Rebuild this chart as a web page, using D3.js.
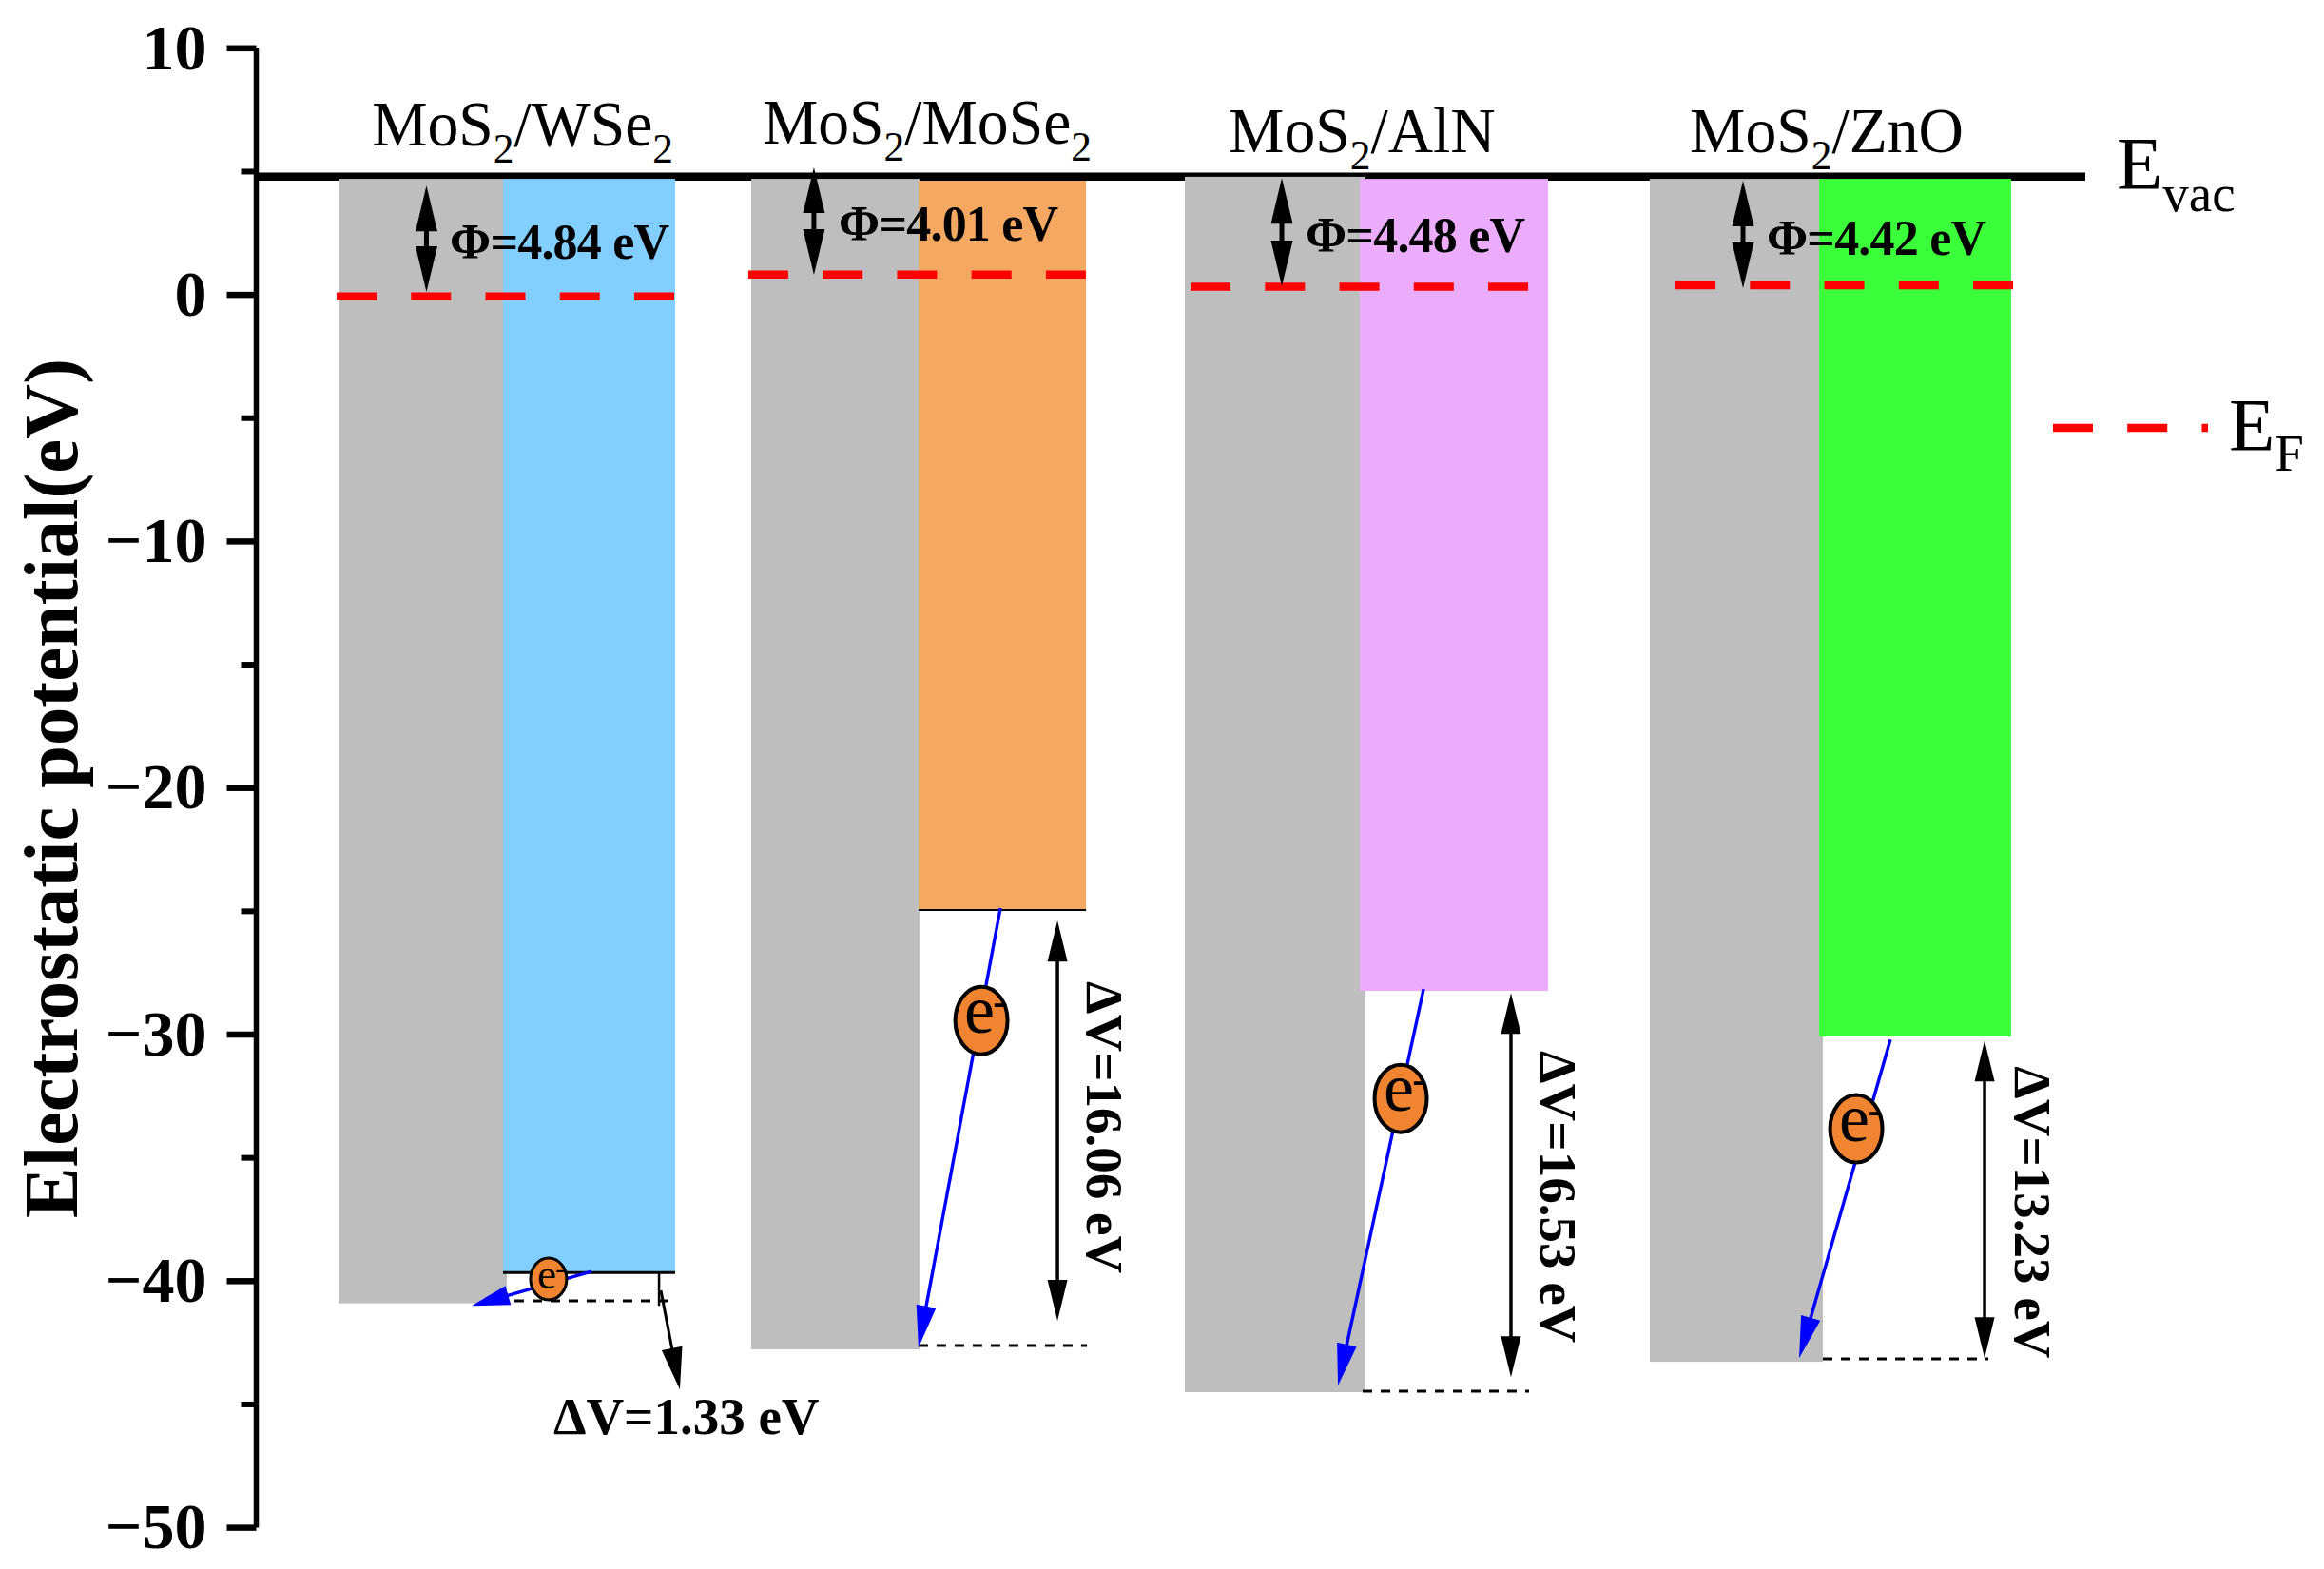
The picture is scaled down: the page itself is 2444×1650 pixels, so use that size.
<!DOCTYPE html>
<html><head><meta charset="utf-8">
<script src="https://cdn.jsdelivr.net/npm/d3@7/dist/d3.min.js"></script>
<style>
html,body{margin:0;padding:0;background:#fff}
svg{display:block}
text{font-family:"Liberation Serif",serif;fill:#000}
</style></head><body>
<svg id="c" width="2444" height="1650"></svg>
<script>
// ---- data (eV on the y axis, arbitrary 0-100 horizontal position units) ----
const heterostructures = ["WSe", "MoSe", "AlN", "ZnO"];
const vacuumLevel = 4.8;
const workFunctions = ["4.84", "4.01", "4.48", "4.42"];
const potentialDrops = ["1.33", "16.06", "16.53", "13.23"];
const yTicksMajor = [10, 0, -10, -20, -30, -40, -50];
const yTicksMinor = [5, -5, -15, -25, -35, -45];

const grayLeft = [4.47, 27.04, 50.75, 76.18];
const grayRight = [13.68, 36.25, 60.63, 85.65];
const grayTop = [4.705, 4.705, 4.79, 4.705];
const grayBottom = [-40.9, -42.77, -44.5, -43.27];
const layerLeft = [13.47, 36.19, 60.32, 85.44];
const layerRight = [22.88, 45.35, 70.62, 95.94];
const layerTop = [4.705, 4.63, 4.705, 4.705];
const layerBottom = [-39.65, -24.95, -28.23, -30.08];
const layerColors = ["#82CEFF", "#F4A862", "#EBACFC", "#3CFF3C"];

const fermiLevel = [-0.06, 0.82, 0.33, 0.39];
const fermiFrom = [4.37, 26.88, 51.07, 77.59];
const fermiTo = [22.88, 45.40, 69.58, 96.10];

const phiArrowX = [9.28, 30.47, 56.06, 81.28];
const phiArrowTop = [4.43, 5.17, 4.74, 4.63];
const phiArrowBottom = [0.12, 0.81, 0.35, 0.27];
const phiLabelX = [10.56, 31.83, 57.36, 82.58];
const phiLabelY = [1.47, 2.20, 1.74, 1.62];

const titleX = [6.30, 27.66, 53.15, 78.37];
const titleY = [6.05, 6.13, 5.78, 5.78];

const flowFromX = [18.30, 40.67, 63.81, 89.34];
const flowFromY = [-39.61, -24.87, -28.15, -30.20];
const flowToX = [11.75, 36.19, 59.13, 84.35];
const flowToY = [-41.0, -42.69, -44.23, -43.12];
const electronX = [15.96, 39.63, 62.56, 87.47];
const electronY = [-39.91, -29.43, -32.59, -33.82];

const dropArrowX = [43.79, 68.59, 94.49];
const dropArrowTop = [-25.38, -28.31, -30.24];
const dropArrowBottom = [-41.61, -43.89, -43.12];
const dropLabelX = [45.40, 70.20, 96.15];
const dropLabelY = [-27.84, -30.66, -31.28];

const dashLevel = [-40.80, -42.61, -44.46, -43.15];
const dashFrom = [14.09, 36.19, 60.48, 85.65];
const dashTo = [22.83, 45.40, 69.58, 94.70];

// ---- scales ----
const svg = d3.select("#c");
const x = d3.scaleLinear().domain([0, 100]).range([270, 2193]);
const y = d3.scaleLinear().domain([10, -50]).range([50.8, 1606.6]);

// ---- helpers ----
function head(g, tipX, tipY, dx, dy, len, wid, color) {
  const n = Math.hypot(dx, dy), ux = dx / n, uy = dy / n;
  const bx = tipX - ux * len, by = tipY - uy * len;
  g.append("path")
    .attr("d", d3.line()([[tipX, tipY], [bx - uy * wid / 2, by + ux * wid / 2], [bx + uy * wid / 2, by - ux * wid / 2]]) + "Z")
    .attr("fill", color);
}
function arrow(g, x0, y0, x1, y1, sw, len, wid, color, both) {
  const n = Math.hypot(x1 - x0, y1 - y0), ux = (x1 - x0) / n, uy = (y1 - y0) / n;
  g.append("line")
    .attr("x1", both ? x0 + ux * len * .9 : x0).attr("y1", both ? y0 + uy * len * .9 : y0)
    .attr("x2", x1 - ux * len * .9).attr("y2", y1 - uy * len * .9)
    .attr("stroke", color).attr("stroke-width", sw);
  head(g, x1, y1, ux, uy, len, wid, color);
  if (both) head(g, x0, y0, -ux, -uy, len, wid, color);
}

// ---- vacuum level (under the slabs) ----
svg.append("line").attr("x1", x(0)).attr("x2", x(100))
  .attr("y1", y(vacuumLevel)).attr("y2", y(vacuumLevel))
  .attr("stroke", "#000").attr("stroke-width", 8.5);

// ---- slabs ----
const slabs = svg.append("g");
heterostructures.forEach((_, i) => {
  slabs.append("rect").attr("x", x(grayLeft[i])).attr("width", x(grayRight[i]) - x(grayLeft[i]))
    .attr("y", y(grayTop[i])).attr("height", y(grayBottom[i]) - y(grayTop[i])).attr("fill", "#BEBEBE");
  slabs.append("rect").attr("x", x(layerLeft[i])).attr("width", x(layerRight[i]) - x(layerLeft[i]))
    .attr("y", y(layerTop[i])).attr("height", y(layerBottom[i]) - y(layerTop[i])).attr("fill", layerColors[i]);
});
// black edge under the first two layers
[[0, 3], [1, 2]].forEach(([i, w]) => {
  slabs.append("line").attr("x1", x(layerLeft[i])).attr("x2", x(layerRight[i]))
    .attr("y1", y(layerBottom[i])).attr("y2", y(layerBottom[i]))
    .attr("stroke", "#000").attr("stroke-width", w);
});

// ---- dashed reference levels ----
heterostructures.forEach((_, i) => {
  svg.append("line").attr("x1", x(dashFrom[i])).attr("x2", x(dashTo[i]))
    .attr("y1", y(dashLevel[i])).attr("y2", y(dashLevel[i]))
    .attr("stroke", "#000").attr("stroke-width", 3).attr("stroke-dasharray", "10 9");
});

// ---- axis ----
const axisG = svg.append("g").attr("transform", `translate(${x(0) - 0.5},0)`);
const axis = d3.axisLeft(y).tickValues(yTicksMajor).tickSize(31).tickSizeOuter(0).tickPadding(21).offset(0);
axisG.call(axis);
axisG.selectAll("line").attr("stroke", "#000").attr("stroke-width", 6.5);
axisG.select(".domain").attr("stroke", "#000").attr("stroke-width", 5.5);
axisG.selectAll("text").style("font-family", '"Liberation Serif",serif')
  .style("font-size", "68px").style("font-weight", "bold");
const minorG = svg.append("g").attr("transform", `translate(${x(0) - 0.5},0)`);
minorG.call(d3.axisLeft(y).tickValues(yTicksMinor).tickSize(16).tickSizeOuter(0).tickFormat("").offset(0));
minorG.select(".domain").remove();
minorG.selectAll("line").attr("stroke", "#000").attr("stroke-width", 6);

svg.append("text").attr("transform", `translate(81,829) rotate(-90)`)
  .attr("text-anchor", "middle").style("font-size", "80.5px").style("font-weight", "bold")
  .text("Electrostatic potential(eV)");

// ---- titles (slightly condensed, as in the figure) ----
heterostructures.forEach((name, i) => {
  const t = svg.append("text").attr("transform", `translate(${x(titleX[i])},${y(titleY[i])}) scale(0.965,1)`)
    .style("font-size", "68px");
  t.append("tspan").text("MoS");
  t.append("tspan").attr("dy", 18).style("font-size", "45px").text("2");
  const hasSub = name.endsWith("Se");
  t.append("tspan").attr("dy", -18).text("/" + name);
  if (hasSub) t.append("tspan").attr("dy", 18).style("font-size", "45px").text("2");
});

// ---- Fermi level ----
heterostructures.forEach((_, i) => {
  svg.append("line").attr("x1", x(fermiFrom[i])).attr("x2", x(fermiTo[i]))
    .attr("y1", y(fermiLevel[i])).attr("y2", y(fermiLevel[i]))
    .attr("stroke", "#FF0000").attr("stroke-width", 8.5).attr("stroke-dasharray", "42 36.25");
});

// ---- work function arrows and labels ----
heterostructures.forEach((_, i) => {
  arrow(svg, x(phiArrowX[i]), y(phiArrowTop[i]), x(phiArrowX[i]), y(phiArrowBottom[i]), 5, 48, 23, "#000", true);
  svg.append("text").attr("x", x(phiLabelX[i])).attr("y", y(phiLabelY[i]))
    .attr("textLength", 231).attr("lengthAdjust", "spacing")
    .style("font-size", "52px").style("font-weight", "bold")
    .text("Φ=" + workFunctions[i] + " eV");
});

// ---- electron flow ----
heterostructures.forEach((_, i) => {
  const small = i === 0;
  arrow(svg, x(flowFromX[i]), y(flowFromY[i]), x(flowToX[i]), y(flowToY[i]), 3.4, small ? 40 : 44, 21, "#0000FF", false);
  const cx = x(electronX[i]), cy = y(electronY[i]);
  svg.append("ellipse").attr("cx", cx).attr("cy", cy)
    .attr("rx", small ? 19 : 27.5).attr("ry", small ? 22 : 35.5)
    .attr("fill", "#F08430").attr("stroke", "#000").attr("stroke-width", small ? 3 : 4);
  const t = svg.append("text").attr("x", cx - (small ? 12 : 18)).attr("y", cy + (small ? 10 : 13))
    .style("font-size", small ? "45px" : "72px").text("e");
  t.append("tspan").attr("dx", small ? -1 : -2).attr("dy", small ? -11 : -17.5)
    .style("font-size", small ? "30px" : "48px").text("-");
});

// ---- potential drop arrows and labels ----
dropArrowX.forEach((ax, i) => {
  arrow(svg, x(ax), y(dropArrowTop[i]), x(ax), y(dropArrowBottom[i]), 3.5, 43, 21, "#000", true);
  svg.append("text").attr("transform", `translate(${x(dropLabelX[i])},${y(dropLabelY[i])}) rotate(90)`)
    .style("font-size", "55px").style("font-weight", "bold")
    .text("ΔV=" + potentialDrops[i + 1] + " eV");
});

// first heterostructure: leader instead of a vertical arrow
svg.append("line").attr("x1", x(22.0)).attr("x2", x(22.0)).attr("y1", y(-39.65)).attr("y2", y(-41.0))
  .attr("stroke", "#000").attr("stroke-width", 2.5);
arrow(svg, x(22.10), y(-40.38), x(23.14), y(-44.39), 3, 44, 22, "#000", false);
svg.append("text").attr("x", x(16.22)).attr("y", y(-46.2))
  .style("font-size", "55px").style("font-weight", "bold")
  .text("ΔV=" + potentialDrops[0] + " eV");

// ---- E_vac / E_F ----
const evac = svg.append("text").attr("x", x(101.72)).attr("y", y(4.32)).style("font-size", "79px");
evac.append("tspan").text("E");
evac.append("tspan").attr("dy", 24).style("font-size", "55px").text("vac");
svg.append("line").attr("x1", x(98.23)).attr("x2", x(106.71)).attr("y1", y(-5.40)).attr("y2", y(-5.40))
  .attr("stroke", "#FF0000").attr("stroke-width", 8.5).attr("stroke-dasharray", "42 36.25");
const ef = svg.append("text").attr("x", x(107.85)).attr("y", y(-6.29)).style("font-size", "79px");
ef.append("tspan").text("E");
ef.append("tspan").attr("dy", 22).style("font-size", "55px").text("F");
</script>
</body></html>
